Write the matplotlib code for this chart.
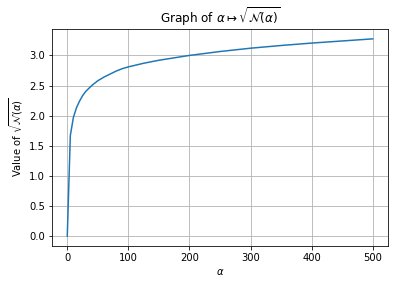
import matplotlib
matplotlib.use("Agg")
import matplotlib.pyplot as plt

alpha = [0, 5, 10, 15, 20, 25, 30, 40, 50, 60, 70, 80, 90, 100, 125, 150, 175,
         200, 250, 300, 350, 400, 450, 500]
value = [0.0, 1.67, 1.97, 2.13, 2.24, 2.33, 2.40, 2.50, 2.58, 2.64, 2.69, 2.74,
         2.78, 2.81, 2.87, 2.92, 2.96, 3.00, 3.065, 3.12, 3.165, 3.205, 3.24, 3.275]
xticks = [0, 100, 200, 300, 400, 500]
yticks = [0.0, 0.5, 1.0, 1.5, 2.0, 2.5, 3.0]

fig = plt.figure(figsize=(393 / 72, 285 / 72), dpi=72)
ax = fig.add_axes([52 / 393, 1 - 246 / 285, 336 / 393, 217 / 285])
ax.plot(alpha, value, color="#1f77b4", linewidth=1.5)
ax.set_xticks(xticks)
ax.set_yticks(yticks)
ax.grid(True)
ax.set_title(r"Graph of $\alpha \mapsto \sqrt{\mathcal{N}(\alpha)}$", fontsize=12)
ax.set_xlabel(r"$\alpha$", fontsize=10)
ax.set_ylabel(r"Value of $\sqrt{\mathcal{N}(\alpha)}$", fontsize=10)
ax.tick_params(labelsize=10)
fig.savefig("out.png", dpi=72)
